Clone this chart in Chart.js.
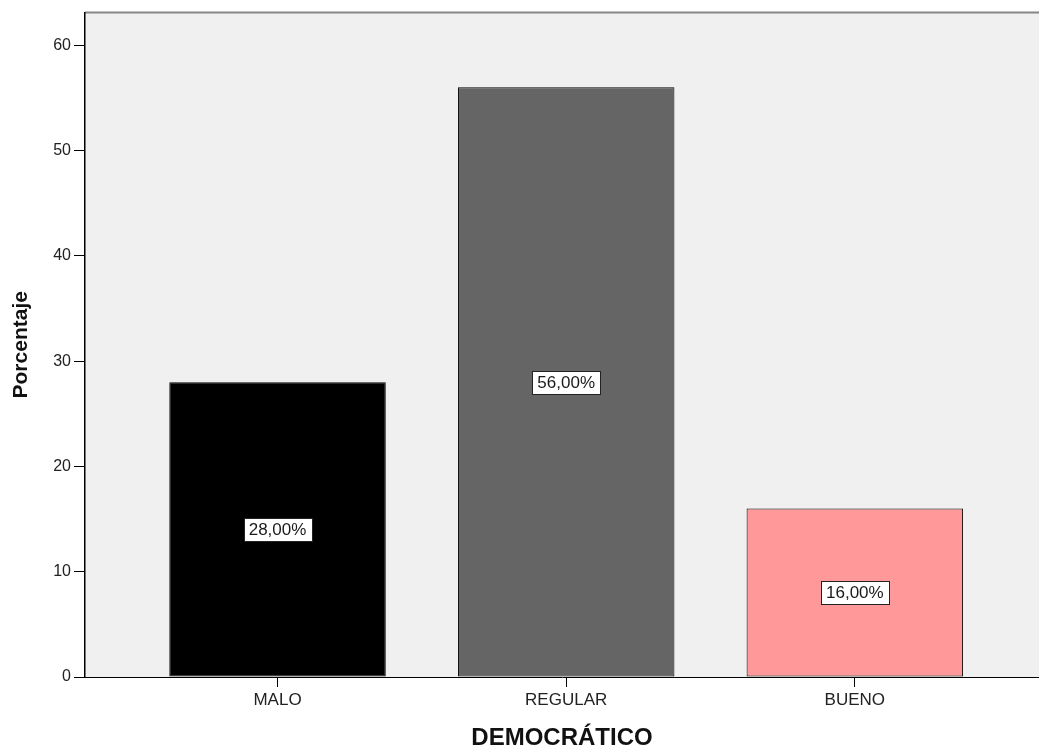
<!DOCTYPE html>
<html>
<head>
<meta charset="utf-8">
<script src="https://cdn.jsdelivr.net/npm/chart.js@4"></script>
<style>
  html, body { margin: 0; padding: 0; background: #ffffff; }
  #wrap { width: 1039px; height: 749px; }
</style>
</head>
<body>
<div id="wrap"><canvas id="c" width="1039" height="749"></canvas></div>
<script>
// Categories and percentages
const categories = ['MALO', 'REGULAR', 'BUENO'];
const percentages = [28, 56, 16];
const barColors = ['#000000', '#656565', '#ff9999'];
const yTicks = [0, 10, 20, 30, 40, 50, 60];

const FONT = '"Liberation Sans", Arial, sans-serif';

// Plot background with a grey top frame line
const plotBackground = {
  id: 'plotBackground',
  beforeDraw(chart) {
    const { ctx, chartArea: a } = chart;
    ctx.save();
    ctx.fillStyle = '#f0f0f0';
    ctx.fillRect(a.left, a.top, a.right - a.left, a.bottom - a.top);
    ctx.strokeStyle = '#858585';
    ctx.lineWidth = 2;
    ctx.beginPath();
    ctx.moveTo(a.left, a.top);
    ctx.lineTo(a.right, a.top);
    ctx.stroke();
    ctx.restore();
  }
};

// Boxed percentage labels at the middle of each bar
const valueLabels = {
  id: 'valueLabels',
  afterDatasetsDraw(chart) {
    const { ctx } = chart;
    const meta = chart.getDatasetMeta(0);
    const yScale = chart.scales.y;
    ctx.save();
    ctx.font = '17px ' + FONT;
    ctx.textAlign = 'center';
    ctx.textBaseline = 'middle';
    meta.data.forEach((bar, i) => {
      const v = percentages[i];
      const text = v.toFixed(2).replace('.', ',') + '%';
      const cx = bar.x;
      const cy = yScale.getPixelForValue(v / 2);
      const w = Math.round(ctx.measureText(text).width + 10);
      const h = 23;
      const bx = Math.round(cx - w / 2) + 0.5;
      const by = Math.round(cy - h / 2) + 0.5;
      ctx.fillStyle = '#ffffff';
      ctx.fillRect(bx, by, w, h);
      ctx.strokeStyle = '#222222';
      ctx.lineWidth = 1;
      ctx.strokeRect(bx, by, w, h);
      ctx.fillStyle = '#1a1a1a';
      ctx.fillText(text, cx, cy + 1);
    });
    ctx.restore();
  }
};

new Chart(document.getElementById('c'), {
  type: 'bar',
  data: {
    datasets: [{
      data: categories.map((c, i) => ({ x: i, y: percentages[i] })),
      backgroundColor: barColors,
      borderColor: '#000000',
      borderWidth: 1,
      borderSkipped: false,
      categoryPercentage: 0.75,
      barPercentage: 1.0
    }]
  },
  options: {
    responsive: false,
    animation: false,
    devicePixelRatio: 1,
    layout: { padding: { top: 10, right: 0, left: 0, bottom: 0 } },
    plugins: { legend: { display: false }, tooltip: { enabled: false } },
    scales: {
      x: {
        type: 'linear',
        offset: false,
        min: -0.667,
        max: 2.638,
        afterBuildTicks(scale) { scale.ticks = categories.map((c, i) => ({ value: i })); },
        afterFit(scale) { scale.height = 72; },
        ticks: {
          autoSkip: false,
          maxRotation: 0,
          padding: 3,
          color: '#222222',
          font: { family: FONT, size: 17 },
          callback: (v) => categories[v]
        },
        grid: { offset: false, drawOnChartArea: false, tickLength: 10, color: '#000000', lineWidth: 1 },
        border: { color: '#000000', width: 1 },
        title: {
          display: true,
          text: 'DEMOCRÁTICO',
          color: '#111111',
          font: { family: FONT, size: 24, weight: 'bold', lineHeight: 0.9 },
          padding: { top: 0, bottom: 0 }
        }
      },
      y: {
        min: 0,
        max: 63.1,
        afterBuildTicks(scale) { scale.ticks = yTicks.map(v => ({ value: v })); },
        afterFit(scale) { scale.width = 85; },
        ticks: {
          padding: 3,
          color: '#222222',
          font: { family: FONT, size: 16 }
        },
        grid: { drawOnChartArea: false, tickLength: 11, color: '#000000', lineWidth: 1 },
        border: { color: '#000000', width: 1.5 },
        title: {
          display: true,
          text: 'Porcentaje',
          color: '#111111',
          font: { family: FONT, size: 21, weight: 'bold', lineHeight: 1 },
          padding: { top: 11, bottom: 0 }
        }
      }
    }
  },
  plugins: [plotBackground, valueLabels]
});
</script>
</body>
</html>
